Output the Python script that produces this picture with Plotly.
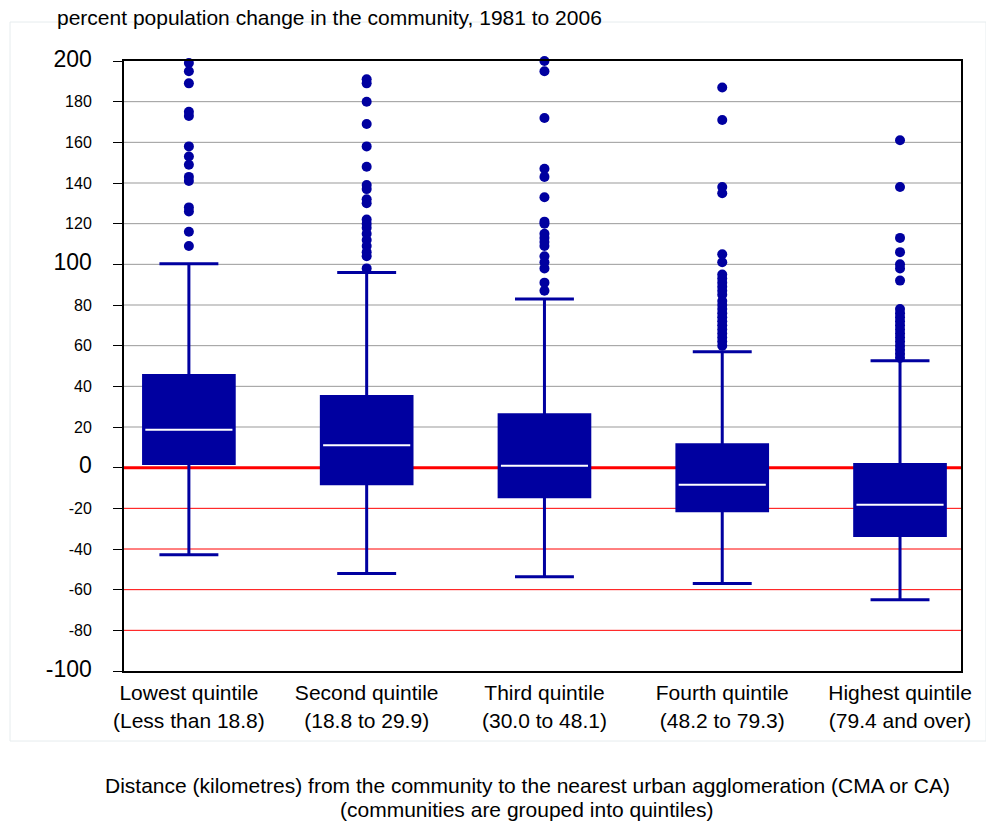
import plotly.graph_objects as go

categories = ["Lowest quintile<br>(Less than 18.8)", "Second quintile<br>(18.8 to 29.9)",
              "Third quintile<br>(30.0 to 48.1)", "Fourth quintile<br>(48.2 to 79.3)",
              "Highest quintile<br>(79.4 and over)"]
q1 = [2.0, -7.9, -14.3, -21.2, -33.4]
median = [18.7, 11.0, 1.0, -8.4, -18.2]
q3 = [45.3, 35.0, 26.0, 11.3, 1.5]
lower_whisker = [-42.8, -52.0, -53.6, -57.0, -65.0]
upper_whisker = [100.3, 96.0, 83.0, 57.0, 52.6]

outliers = [
    [199, 195, 189, 175, 173, 158, 153, 149, 143, 141, 128, 126, 116, 109],
    [191, 189, 180, 169, 158, 148, 139, 137, 132, 130, 122, 120, 118, 115, 112, 109, 106, 104, 98],
    [200, 195, 172, 147, 143, 133, 121, 120, 115, 113, 111, 109, 104, 101, 98, 91, 87],
    [187, 171, 138, 135, 105, 101, 95, 93, 91, 89, 87, 85, 82, 80, 78, 76, 74, 72, 70, 68, 66, 64, 62, 60],
    [161, 138, 113, 106, 100, 98, 92, 78, 76, 74, 72, 70, 68, 66, 64, 62, 60, 58, 56, 54],
]

y_tick_vals = [-100, -80, -60, -40, -20, 0, 20, 40, 60, 80, 100, 120, 140, 160, 180, 200]
y_tick_major = [-100, 0, 100, 200]
grid_positive = [20, 40, 60, 80, 100, 120, 140, 160, 180]
grid_negative = [-20, -40, -60, -80]

title_text = "percent population change in the community, 1981 to 2006"
x_title_lines = ["Distance (kilometres) from the community to the nearest urban agglomeration (CMA or CA)",
                 "(communities are grouped into quintiles)"]

BLUE = "#0000A0"
FONT = "Liberation Sans, Arial, sans-serif"
xs = list(range(len(categories)))
BOX_W = 0.51

fig = go.Figure()

fig.add_trace(go.Box(
    x=xs, q1=q1, median=median, q3=q3,
    lowerfence=lower_whisker, upperfence=upper_whisker,
    fillcolor=BLUE, line=dict(color=BLUE, width=3),
    width=BOX_W, whiskerwidth=0.65, boxpoints=False,
    showlegend=False, hoverinfo="skip",
))

# white median lines
mx, my = [], []
for i, m in enumerate(median):
    mx += [i - BOX_W / 2 + 0.01, i + BOX_W / 2 - 0.01, None]
    my += [m, m, None]
fig.add_trace(go.Scatter(x=mx, y=my, mode="lines", line=dict(color="white", width=2),
                         showlegend=False, hoverinfo="skip"))

# outliers
ox, oy = [], []
for i, vals in enumerate(outliers):
    ox += [i] * len(vals)
    oy += vals
fig.add_trace(go.Scatter(x=ox, y=oy, mode="markers",
                         marker=dict(color=BLUE, size=10, line=dict(width=0)),
                         showlegend=False, hoverinfo="skip", cliponaxis=False))

shapes = []
for g in grid_positive:
    shapes.append(dict(type="line", xref="paper", x0=0, x1=1, yref="y", y0=g, y1=g,
                       line=dict(color="#999999", width=1), layer="below"))
for g in grid_negative:
    shapes.append(dict(type="line", xref="paper", x0=0, x1=1, yref="y", y0=g, y1=g,
                       line=dict(color="#FF0000", width=1), layer="below"))
shapes.append(dict(type="line", xref="paper", x0=0, x1=1, yref="y", y0=0, y1=0,
                   line=dict(color="#FF0000", width=3), layer="below"))
# faint outer chart frame
shapes.append(dict(type="rect", xref="paper", yref="paper",
                   x0=(10 - 124) / 837, x1=(986 - 124) / 837,
                   y0=(671 - 741) / 610, y1=(671 - 22) / 610,
                   line=dict(color="#E6ECEE", width=1), layer="below"))

tick_text = [
    f'<span style="font-size:23px">{v}</span>' if v in y_tick_major else str(v)
    for v in y_tick_vals
]

annotations = [
    dict(text=title_text, xref="paper", yref="paper", x=(55 - 124) / 837, y=(671 - 18) / 610,
         xanchor="left", yanchor="middle", showarrow=False, font=dict(size=21, family=FONT)),
]
for line_text, ypix in zip(x_title_lines, [786, 809]):
    annotations.append(dict(text=line_text, xref="paper", yref="paper", x=(527 - 124) / 837,
                            y=(671 - ypix) / 610, xanchor="center", yanchor="middle",
                            showarrow=False, font=dict(size=21, family=FONT)))

fig.update_layout(
    width=986, height=825,
    margin=dict(l=124, r=25, t=61, b=154),
    paper_bgcolor="white", plot_bgcolor="white",
    font=dict(family=FONT, color="black", size=16),
    shapes=shapes,
    xaxis=dict(
        range=[-0.365, 4.343], tickvals=xs, ticktext=categories,
        showgrid=False, zeroline=False, showline=True, linecolor="black", linewidth=2,
        mirror=True, ticks="", tickfont=dict(size=21, family=FONT), ticklabelstandoff=2,
    ),
    yaxis=dict(
        range=[-100, 200], tickvals=y_tick_vals, ticktext=tick_text,
        showgrid=False, zeroline=False, showline=True, linecolor="black", linewidth=2,
        mirror=True, ticks="outside", ticklen=9, tickcolor="black", tickwidth=1,
        tickfont=dict(size=16, family=FONT), ticklabelstandoff=18,
    ),
    annotations=annotations,
)

fig.write_html("out.html")
